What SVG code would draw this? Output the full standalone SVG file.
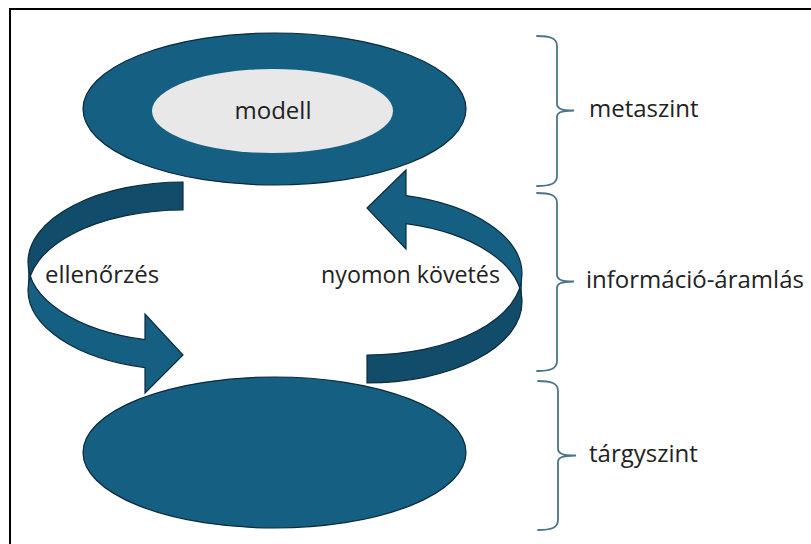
<svg xmlns="http://www.w3.org/2000/svg" width="811" height="544" viewBox="0 0 811 544">
  <style>
    .lbl { font-family: "Open Sans", "Liberation Sans", sans-serif; font-size: 24px; fill: #222222; }
    .disc { fill: #156082; stroke: #0c2a3a; stroke-width: 1.2; }
    .front { fill: #156082; stroke: none; }
    .back { fill: #114c6a; stroke: none; }
    .edge { fill: none; stroke: #0c2a3a; stroke-width: 1.2; stroke-linejoin: miter; }
    .brace { fill: none; stroke: #4a7688; stroke-width: 1.8; stroke-linecap: round; }
  </style>

  <rect x="0" y="0" width="811" height="544" fill="#ffffff"/>
  <!-- frame: only the top and left sides fall inside the canvas -->
  <rect x="10" y="9" width="900" height="700" fill="none" stroke="#000000" stroke-width="2"/>

  <!-- upper level -->
  <g id="meta-level">
    <ellipse class="disc" cx="274.5" cy="109" rx="191.5" ry="76"/>
    <ellipse cx="272.5" cy="111" rx="120.5" ry="42" fill="#e8e8e8"/>
    <text class="lbl" x="273" y="119" text-anchor="middle">modell</text>
  </g>

  <!-- lower level -->
  <g id="object-level">
    <ellipse class="disc" cx="274.5" cy="452.5" rx="191.5" ry="75.5"/>
  </g>

  <!-- curved flow arrows -->
  <g id="connectors">
    <g id="check-arrow">
      <path class="back" d="M183,182 A155,80 0 0 0 28,262 A155,80 0 0 0 30.4,276 A155,80 0 0 1 183,210 Z"/>
      <path class="front" d="M28,262 A155,80 0 0 0 145,339.6 L145,314 L183,355 L145,393 L145,367.6 A155,80 0 0 1 28,290 Z"/>
      <path class="edge" d="M28,262 A155,80 0 0 0 145,339.6 L145,314 L183,355 L145,393 L145,367.6 A155,80 0 0 1 28,290 A155,80 0 0 1 183,210 L183,182 A155,80 0 0 0 28,262 Z"/>
    </g>
    <g id="trace-arrow">
      <path class="back" d="M367,383 A155,81 0 0 0 522,302 A155,81 0 0 0 519.7,288 A155,81 0 0 1 367,355 Z"/>
      <path class="front" d="M522,302 A155,81 0 0 0 406,223.6 L406,249 L367,208 L406,170 L406,195.6 A155,81 0 0 1 522,274 Z"/>
      <path class="edge" d="M522,302 A155,81 0 0 0 406,223.6 L406,249 L367,208 L406,170 L406,195.6 A155,81 0 0 1 522,274 A155,81 0 0 1 367,355 L367,383 A155,81 0 0 0 522,302 Z"/>
    </g>
  </g>

  <g id="check-label">
    <text class="lbl" x="45" y="283">ellenőrzés</text>
  </g>
  <g id="trace-label">
    <text class="lbl" x="321" y="283" textLength="179" lengthAdjust="spacingAndGlyphs">nyomon követés</text>
  </g>

  <!-- level braces -->
  <g id="brace-meta">
    <path class="brace" d="M537,36 C550,36 557,38 557,46 V104 C557,108 560,110.5 574,110.5 C560,110.5 557,113 557,117 V176 C557,184 550,186 537,186"/>
    <text class="lbl" x="589" y="117">metaszint</text>
  </g>
  <g id="brace-flow">
    <path class="brace" d="M537,193 C550,193 557,195 557,203 V275 C557,279 560,281.5 574,281.5 C560,281.5 557,284 557,288 V361 C557,369 550,371 537,371"/>
    <text class="lbl" x="586" y="288">információ-áramlás</text>
  </g>
  <g id="brace-object">
    <path class="brace" d="M538,381 C551,381 558,383 558,391 V449 C558,453 561,455.5 576,455.5 C561,455.5 558,458 558,462 V520 C558,528 551,530 538,530"/>
    <text class="lbl" x="589" y="462">tárgyszint</text>
  </g>
</svg>
